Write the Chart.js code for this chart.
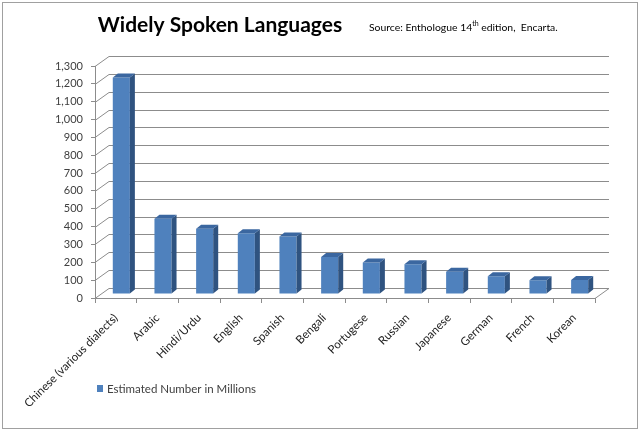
<!DOCTYPE html>
<html lang="en">
<head>
    <meta charset="UTF-8">
    <title>Widely Spoken Languages</title>
    <script src="https://cdn.jsdelivr.net/npm/chart.js"></script>
    <style>
        body { margin: 0; background: #fff; }
        .chart-container { position: relative; width: 640px; height: 431px; }
    </style>
</head>
<body>
    <div class="chart-container">
        <canvas id="langChart" width="640" height="431"></canvas>
    </div>

    <script>
        // data (millions of speakers)
        const languages = [
            'Chinese (various dialects)', 'Arabic', 'Hindi/Urdu', 'English', 'Spanish', 'Bengali',
            'Portugese', 'Russian', 'Japanese', 'German', 'French', 'Korean'
        ];
        const speakers = [1213, 422, 366, 341, 322, 207, 176, 167, 125, 100, 77, 78];
        const seriesName = 'Estimated Number in Millions';
        const yTicks = { min: 0, max: 1300, step: 100 };

        const FONT = 'Lato, "Open Sans", sans-serif';
        const GRID = '#8c8c8c';

        // fake 3d: back wall offset, bar offset inside the depth, bar depth
        const wall = { dx: 14, dy: -10 };
        const barShift = { dx: 5.5, dy: -4 };
        const barDepth = { dx: 5, dy: -4 };

        const pseudo3d = {
            id: 'pseudo3d',
            beforeDraw(chart) {
                const ctx = chart.ctx;
                ctx.save();
                ctx.strokeStyle = '#a0a0a0';
                ctx.lineWidth = 1;
                ctx.strokeRect(2.5, 2.5, chart.width - 5, chart.height - 5);
                ctx.restore();
            },
            beforeDatasetsDraw(chart) {
                const ctx = chart.ctx;
                const y = chart.scales.y;
                const area = chart.chartArea;
                ctx.save();
                ctx.strokeStyle = GRID;
                ctx.lineWidth = 1;
                y.ticks.forEach(t => {
                    const py = Math.round(y.getPixelForValue(t.value)) + 0.5;
                    ctx.beginPath();
                    ctx.moveTo(area.left, py);
                    ctx.lineTo(area.left + wall.dx, py + wall.dy);
                    ctx.lineTo(area.right + wall.dx, py + wall.dy);
                    ctx.stroke();
                });
                // right edge of the floor
                const by = Math.round(area.bottom) + 0.5;
                ctx.beginPath();
                ctx.moveTo(area.right, by);
                ctx.lineTo(area.right + wall.dx, by + wall.dy);
                ctx.stroke();
                ctx.restore();

                ctx.save();
                ctx.translate(barShift.dx, barShift.dy);
            },
            afterDatasetsDraw(chart) {
                const ctx = chart.ctx;
                const ds = chart.data.datasets[0];
                chart.getDatasetMeta(0).data.forEach(bar => {
                    const l = bar.x - bar.width / 2;
                    const r = bar.x + bar.width / 2;
                    // side face
                    ctx.fillStyle = ds.sideColor;
                    ctx.beginPath();
                    ctx.moveTo(r, bar.y);
                    ctx.lineTo(r + barDepth.dx, bar.y + barDepth.dy);
                    ctx.lineTo(r + barDepth.dx, bar.base + barDepth.dy);
                    ctx.lineTo(r, bar.base);
                    ctx.closePath();
                    ctx.fill();
                    // top face
                    ctx.fillStyle = ds.topColor;
                    ctx.beginPath();
                    ctx.moveTo(l, bar.y);
                    ctx.lineTo(l + barDepth.dx, bar.y + barDepth.dy);
                    ctx.lineTo(r + barDepth.dx, bar.y + barDepth.dy);
                    ctx.lineTo(r, bar.y);
                    ctx.closePath();
                    ctx.fill();
                });
                ctx.restore();
            },
            afterDraw(chart) {
                const ctx = chart.ctx;
                const ds = chart.data.datasets[0];
                ctx.save();
                ctx.fillStyle = '#000';
                ctx.textBaseline = 'middle';
                ctx.textAlign = 'center';
                ctx.font = 'bold 21px ' + FONT;
                ctx.fillText('Widely Spoken Languages', 220, 25);

                // source line with superscript
                ctx.textAlign = 'left';
                let x = 369;
                ctx.font = '10.4px ' + FONT;
                const a = 'Source: Enthologue 14';
                ctx.fillText(a, x, 28);
                x += ctx.measureText(a).width;
                ctx.font = '7px ' + FONT;
                ctx.fillText('th', x, 24);
                x += ctx.measureText('th').width;
                ctx.font = '10.4px ' + FONT;
                ctx.fillText(' edition,  Encarta.', x, 28);

                // legend
                const lx = chart.chartArea.left + 2;
                ctx.fillStyle = ds.backgroundColor;
                ctx.fillRect(lx, 385, 6, 7);
                ctx.fillStyle = '#404040';
                ctx.font = '11.5px ' + FONT;
                ctx.fillText(ds.label, lx + 10, 389);
                ctx.restore();
            }
        };

        new Chart(document.getElementById('langChart'), {
            type: 'bar',
            data: {
                labels: languages,
                datasets: [{
                    label: seriesName,
                    data: speakers,
                    backgroundColor: '#4f81bd',
                    sideColor: '#2f5380',
                    topColor: '#3b67a0',
                    borderWidth: 0,
                    barPercentage: 0.41,
                    categoryPercentage: 1
                }]
            },
            options: {
                responsive: false,
                animation: false,
                devicePixelRatio: 1,
                layout: { padding: { top: 66, left: 0, right: 45, bottom: 10 } },
                scales: {
                    x: {
                        grid: { drawOnChartArea: false, tickLength: 5, color: GRID },
                        border: { color: GRID },
                        ticks: {
                            minRotation: 45, maxRotation: 45,
                            padding: 8,
                            color: '#222',
                            font: { family: FONT, size: 11.5 }
                        },
                        afterFit(scale) { scale.height = 123; }
                    },
                    y: {
                        min: yTicks.min,
                        max: yTicks.max,
                        grid: { drawOnChartArea: false, tickLength: 4, color: GRID },
                        border: { color: GRID },
                        ticks: {
                            stepSize: yTicks.step,
                            padding: 8,
                            color: '#404040',
                            font: { family: FONT, size: 11 },
                            callback: v => v.toLocaleString('en-US')
                        },
                        afterFit(scale) { scale.width = 95; }
                    }
                },
                plugins: {
                    title: { display: false },
                    legend: { display: false },
                    tooltip: { enabled: false }
                }
            },
            plugins: [pseudo3d]
        });
    </script>
</body>
</html>
